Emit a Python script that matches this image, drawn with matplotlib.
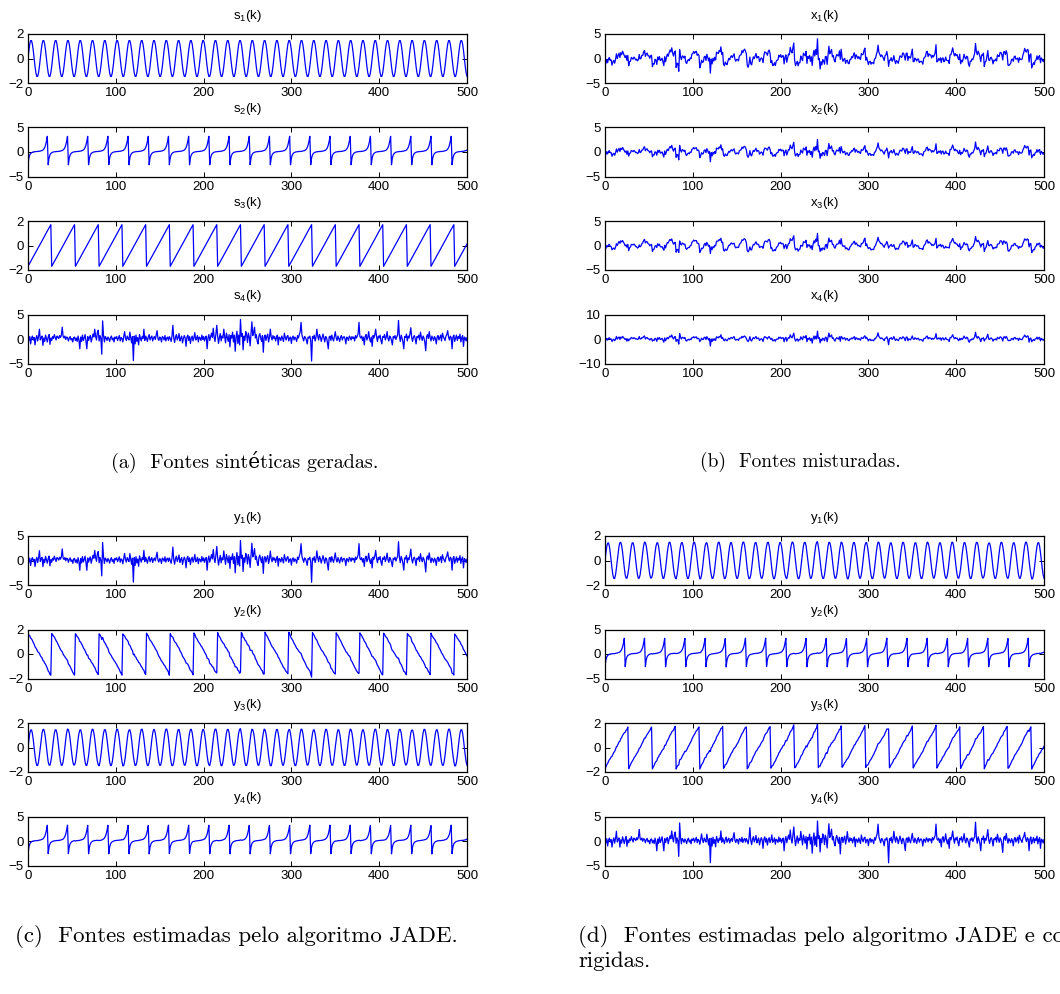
import numpy as np
import matplotlib
matplotlib.use("Agg")
import matplotlib.pyplot as plt

plt.rcParams['font.family'] = ['Liberation Sans', 'DejaVu Sans']
plt.rcParams['mathtext.fontset'] = 'custom'
plt.rcParams['mathtext.rm'] = 'Liberation Sans'
plt.rcParams['mathtext.it'] = 'Liberation Sans'

# amostras k = 0..500
n_samples = 501
xticks = [0, 100, 200, 300, 400, 500]

# um periodo de cada fonte periodica
sine_cycle = [0.0, 0.65, 1.17, 1.46, 1.46, 1.17, 0.65,
              0.0, -0.65, -1.17, -1.46, -1.46, -1.17, -0.65]
spike_cycle = [-2.6, -1.2, -0.6, -0.3, -0.15, -0.05, 0.0, 0.05, 0.05, 0.1, 0.1, 0.1,
               0.15, 0.15, 0.2, 0.25, 0.3, 0.4, 0.6, 0.9, 1.4, 2.2, 3.2]
saw_cycle = [-1.7, -1.57, -1.44, -1.31, -1.18, -1.05, -0.92, -0.79, -0.65, -0.52,
             -0.39, -0.26, -0.13, 0.0, 0.13, 0.26, 0.39, 0.52, 0.65, 0.79, 0.92,
             1.05, 1.18, 1.31, 1.44, 1.57, 1.7]

# fonte ruidosa s4(k), valores estimados da figura
noise_src = [
    0.4, -0.3, 0.5, -1.0, 0.2, 0.6, -0.2, 0.3, -1.2, 0.1, 0.7, -0.4, 0.5, 2.0, -0.2, 0.3, 0.6, -1.3, 0.2, -0.5,
    0.8, 0.1, -0.6, 0.4, 0.9, -1.1, 0.2, -0.3, 0.5, 0.1, 0.9, 0.3, -0.2, 0.6, 0.4, 0.1, 0.7, 0.3, 0.8, 2.4,
    0.5, 0.2, 0.6, -0.1, 0.4, 0.3, -0.4, 0.2, 0.5, -0.2, 0.1, -0.6, 0.3, 0.4, -0.3, 0.2, -0.5, 0.6, -0.2, -2.0,
    0.4, -0.5, 0.8, -0.3, 0.2, 0.9, -0.4, -2.0, 0.5, -0.3, 0.3, 0.7, -0.6, 0.2, 1.0, 0.4, 2.0, 0.6, -0.2, 1.3,
    1.8, -0.4, 0.7, 0.1, -3.1, 3.7, 0.8, -0.6, 0.5, 0.2, -0.3, 0.4, 0.1, -0.5, 0.3, 0.6, -0.2, 0.2, -0.6, 0.4,
    0.1, 0.5, -0.3, 0.2, 0.7, -0.4, 0.3, 0.1, -0.6, 0.4, 1.5, 0.2, -0.3, 0.6, 0.1, -0.2, 1.4, 0.3, -0.8, 0.5,
    -4.4, 0.6, -1.0, 0.8, -0.5, 0.3, -1.2, 0.9, 0.2, -0.4, 0.5, 0.1, 2.0, -0.3, 0.6, 0.2, -0.5, 0.4, 0.9, -0.2,
    0.3, 0.6, -0.4, 0.2, 0.5, -0.1, 0.8, 1.7, 0.1, -0.3, 0.4, 0.2, -0.6, 0.5, 0.3, -0.2, 0.7, -0.4, 0.2, 0.4,
    -0.3, 0.5, 0.1, -0.5, 0.6, 2.8, 0.2, -0.7, 0.4, 0.9, -0.2, 0.3, 1.1, -0.4, 0.2, 0.6, -0.8, 0.1, 0.7, 0.2,
    -1.5, 0.4, 0.8, -0.3, 0.5, -0.9, 0.2, 0.6, -0.4, 0.3, 1.3, -0.2, 0.1, 0.7, -0.6, 0.4, 0.2, -0.3, 0.8, -0.1,
    0.5, -0.4, 0.3, 0.6, -2.0, 0.2, 0.9, -0.3, 0.5, 1.2, 0.3, 2.2, 0.4, -0.5, 1.0, 2.8, 0.6, -0.9, 0.3, 1.1,
    -0.4, 0.6, 0.2, 2.0, 0.5, -0.8, 1.2, 0.3, -0.5, 0.9, -1.6, 0.7, 0.2, 1.4, -0.6, 0.8, -2.5, 0.4, 1.6, -0.9,
    0.8, -1.2, 4.0, 0.5, 1.1, -2.2, 0.6, -0.3, 1.5, 0.9, -0.7, 1.2, 0.4, -1.4, 1.0, 3.5, 0.7, 1.3, 2.4, 0.2,
    0.9, -0.4, -1.0, 0.6, 1.1, 0.2, -0.5, 0.7, -2.7, 0.4, 0.8, -0.3, 0.5, 1.0, -0.6, 0.3, 2.0, 0.4, -0.2, 0.7,
    0.1, 0.5, -0.4, 0.3, 0.8, -1.2, 0.4, 0.2, -0.3, 0.6, 0.1, -0.5, 1.2, 0.3, -0.2, 0.5, 0.7, -0.4, 0.2, 0.4,
    -0.9, 0.3, 0.6, -0.2, 0.4, 0.1, -0.5, 0.7, 0.2, 0.9, 1.5, 3.4, 0.8, 0.2, -0.4, 0.5, 0.3, -0.2, -1.0, 0.4,
    0.2, 0.6, -0.3, -4.5, 0.5, 0.1, 0.8, -0.4, 0.3, 2.0, 0.6, -0.2, 0.9, 0.4, -0.5, 0.3, 1.0, 0.2, -0.6, 0.5,
    0.3, -0.7, -2.0, 0.4, 0.6, -0.3, 0.8, 0.1, -0.4, 0.5, 1.5, 0.2, -0.3, 0.6, 0.1, -0.5, 0.4, 0.7, -0.2, 0.3,
    0.5, 0.1, -1.0, 0.4, 0.2, -0.3, 0.6, 0.3, -0.2, 0.5, 0.1, 0.4, -0.4, 0.7, 0.2, 0.6, 1.1, 3.4, 0.5, 0.2,
    0.6, -0.3, 0.4, -1.2, 0.5, 0.9, -0.2, 0.3, 1.5, 0.1, -0.6, 0.4, -1.5, 0.7, 0.2, 0.9, 2.0, 0.4, -0.5, 0.6,
    0.2, 0.8, -0.3, -1.0, 0.5, 0.3, 0.9, -0.2, 0.4, 1.5, 0.1, -0.4, 0.6, 0.3, -0.3, -1.2, 0.5, 0.2, 0.7, -0.1,
    0.4, 0.9, 3.8, 0.6, -0.5, 0.8, 0.2, -0.6, -2.0, 0.5, 0.3, 1.0, -0.4, 0.6, 0.2, 1.1, 2.3, 0.3, -0.5, 0.4,
    0.7, 0.1, -1.0, 0.5, 0.3, 0.8, -0.2, 1.4, 0.4, -0.3, 0.6, 0.2, -0.7, -2.4, 0.5, 0.9, 0.1, 1.5, 0.3, -0.4,
    0.6, 0.2, -0.3, 0.5, 0.1, -1.0, 0.4, 0.7, -0.2, 0.3, 0.8, -0.4, 1.2, 0.5, 0.1, -0.3, 0.6, 0.9, 1.7, 0.4,
    -0.2, 0.6, 0.3, -2.0, 0.4, 0.8, -0.5, 0.2, 0.8, -0.3, 0.5, 0.1, 1.0, -0.6, 0.3, 0.7, -1.5, 0.4, 0.2, -0.4,
    0.3,
]

# matriz de mistura (estimada) e matrizes globais W*A dos estimadores
mix_matrix = [[0.4, 0.15, 0.6, 0.6],
              [0.3, 0.10, 0.3, 0.4],
              [0.4, 0.10, 0.4, 0.3],
              [0.3, 0.15, 0.2, 0.6]]
jade_matrix = [[0.02, 0.01, 0.03, 1.0],
               [0.03, 0.02, -1.0, 0.04],
               [1.0, 0.01, 0.02, 0.01],
               [0.01, 1.0, 0.02, 0.01]]
corrected_matrix = [[1.0, 0.01, 0.02, 0.01],
                    [0.01, 1.0, 0.02, 0.01],
                    [0.03, 0.02, 1.0, 0.04],
                    [0.02, 0.01, 0.03, 1.0]]

ylims_a = [2, 5, 2, 5]
ylims_b = [5, 5, 5, 10]
ylims_c = [5, 2, 2, 5]
ylims_d = [2, 5, 2, 5]

titles_a = [r's$_%d$(k)' % i for i in range(1, 5)]
titles_b = [r'x$_%d$(k)' % i for i in range(1, 5)]
titles_y = [r'y$_%d$(k)' % i for i in range(1, 5)]

captions = ['(a)  Fontes sintéticas geradas.',
            '(b)  Fontes misturadas.',
            '(c)  Fontes estimadas pelo algoritmo JADE.',
            '(d)  Fontes estimadas pelo algoritmo JADE e cor-\nrigidas.']

k = np.arange(n_samples)
sources = np.vstack([np.resize(sine_cycle, n_samples),
                     np.resize(spike_cycle, n_samples),
                     np.resize(saw_cycle, n_samples),
                     np.array(noise_src)])
mixed = np.array(mix_matrix) @ sources
est_jade = np.array(jade_matrix) @ sources
est_corr = np.array(corrected_matrix) @ sources

W, H = 1060.0, 994.0
fig = plt.figure(figsize=(W / 100, H / 100), dpi=100)


def draw_group(left_px, top_px, signals, lims, titles):
    for i in range(4):
        top = top_px + i * 93.5
        ax = fig.add_axes([left_px / W, 1 - (top + 49) / H, 439 / W, 49 / H])
        ax.plot(k, signals[i], color='blue', lw=0.9)
        lim = lims[i]
        ax.set_xlim(0, 500)
        ax.set_ylim(-lim, lim)
        ax.set_yticks([-lim, 0, lim])
        ax.set_xticks(xticks)
        ax.tick_params(direction='in', top=True, right=True, length=3.5,
                       width=0.7, labelsize=9.5, pad=3)
        for sp in ax.spines.values():
            sp.set_linewidth(0.9)
        ax.set_title(titles[i], fontsize=9.5, pad=11)


draw_group(28, 34, sources, ylims_a, titles_a)
draw_group(605, 34, mixed, ylims_b, titles_b)
draw_group(28, 536, est_jade, ylims_c, titles_y)
draw_group(605, 536, est_corr, ylims_d, titles_y)

cap_font = ['cmr10', 'DejaVu Serif']
fig.text(245 / W, 1 - 462 / H, captions[0], ha='center', va='center',
         fontsize=14.5, family=cap_font)
fig.text(800 / W, 1 - 462 / H, captions[1], ha='center', va='center',
         fontsize=14, family=cap_font)
fig.text(236 / W, 1 - 936 / H, captions[2], ha='center', va='center',
         fontsize=16.5, family=cap_font)
fig.text(578 / W, 1 - 925 / H, captions[3], ha='left', va='top',
         fontsize=16.5, family=cap_font, linespacing=1.2)

fig.savefig('out.png', dpi=100)
